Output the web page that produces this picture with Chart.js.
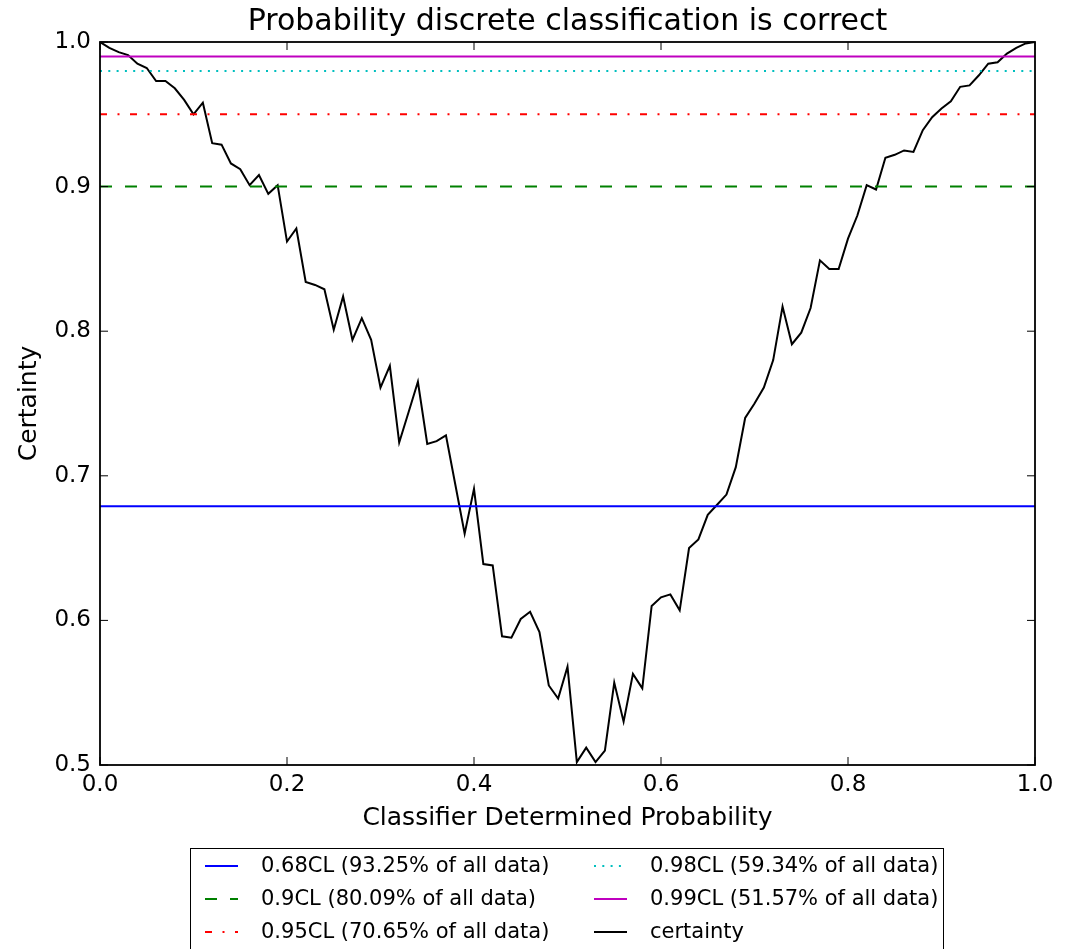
<!DOCTYPE html>
<html lang="en">

    <head>
        <title>Certainty</title>
        <style>
            body { margin: 0; background: #ffffff; }
        </style>
    </head>

    <body>

        <canvas id="certaintyChart" width="1068" height="949"></canvas>

        <script src="https://cdn.jsdelivr.net/npm/chart.js"></script>

        <script>

            // classifier probability (x) and the certainty curve
            const probability = [
                0.00, 0.01, 0.02, 0.03, 0.04, 0.05, 0.06, 0.07, 0.08, 0.09,
                0.10, 0.11, 0.12, 0.13, 0.14, 0.15, 0.16, 0.17, 0.18, 0.19,
                0.20, 0.21, 0.22, 0.23, 0.24, 0.25, 0.26, 0.27, 0.28, 0.29,
                0.30, 0.31, 0.32, 0.33, 0.34, 0.35, 0.36, 0.37, 0.38, 0.39,
                0.40, 0.41, 0.42, 0.43, 0.44, 0.45, 0.46, 0.47, 0.48, 0.49,
                0.50, 0.51, 0.52, 0.53, 0.54, 0.55, 0.56, 0.57, 0.58, 0.59,
                0.60, 0.61, 0.62, 0.63, 0.64, 0.65, 0.66, 0.67, 0.68, 0.69,
                0.70, 0.71, 0.72, 0.73, 0.74, 0.75, 0.76, 0.77, 0.78, 0.79,
                0.80, 0.81, 0.82, 0.83, 0.84, 0.85, 0.86, 0.87, 0.88, 0.89,
                0.90, 0.91, 0.92, 0.93, 0.94, 0.95, 0.96, 0.97, 0.98, 0.99,
                1.00
            ]

            const certainty = [
                1.000, 0.996, 0.993, 0.991, 0.985, 0.982, 0.973, 0.973, 0.968, 0.960,
                0.950, 0.958, 0.930, 0.929, 0.916, 0.912, 0.901, 0.908, 0.895, 0.901,
                0.862, 0.871, 0.834, 0.832, 0.829, 0.801, 0.824, 0.794, 0.809, 0.794,
                0.761, 0.776, 0.723, 0.744, 0.765, 0.722, 0.724, 0.728, 0.694, 0.660,
                0.691, 0.639, 0.638, 0.589, 0.588, 0.601, 0.606, 0.592, 0.555, 0.546,
                0.568, 0.502, 0.512, 0.502, 0.510, 0.557, 0.530, 0.563, 0.553, 0.610,
                0.616, 0.618, 0.607, 0.650, 0.656, 0.673, 0.680, 0.687, 0.706, 0.740,
                0.750, 0.761, 0.780, 0.817, 0.791, 0.799, 0.816, 0.849, 0.843, 0.843,
                0.864, 0.880, 0.901, 0.898, 0.920, 0.922, 0.925, 0.924, 0.939, 0.948,
                0.954, 0.959, 0.969, 0.970, 0.977, 0.985, 0.986, 0.992, 0.996, 0.999,
                1.000
            ]

            // confidence level lines
            const clLabels = [
                "0.68CL (93.25% of all data)",
                "0.9CL (80.09% of all data)",
                "0.95CL (70.65% of all data)",
                "0.98CL (59.34% of all data)",
                "0.99CL (51.57% of all data)"
            ]
            const clValues = [0.679, 0.90, 0.95, 0.98, 0.99]
            const clColors = ["#0000ff", "#008000", "#ff0000", "#00bfbf", "#bf00bf"]
            const clDashes = [[], [12, 13], [7, 10.5, 2, 10.5], [2, 6.3], []]

            const xTicks = [0.0, 0.2, 0.4, 0.6, 0.8, 1.0]
            const yTicks = [0.5, 0.6, 0.7, 0.8, 0.9, 1.0]

            const fontName = "'DejaVu Sans', sans-serif"


            var datasets = []
            for (var i = 0; i < clValues.length; i++) {
                datasets.push({
                    label: clLabels[i],
                    data: [{x: 0, y: clValues[i]}, {x: 1, y: clValues[i]}],
                    borderColor: clColors[i],
                    borderWidth: 2,
                    borderDash: clDashes[i],
                    pointRadius: 0
                })
            }
            datasets.push({
                label: "certainty",
                data: probability.map(function(p, j){ return {x: p, y: certainty[j]} }),
                borderColor: "#000000",
                borderWidth: 2,
                pointRadius: 0,
                tension: 0
            })


            // frame, inward ticks, title and the two column legend
            const matplotlibLook = {
                id: "matplotlibLook",
                afterDraw(chart) {
                    const ctx = chart.ctx
                    const area = chart.chartArea
                    const xs = chart.scales.x
                    const ys = chart.scales.y

                    ctx.save()
                    ctx.strokeStyle = "#000000"
                    ctx.lineWidth = 1
                    ctx.setLineDash([])
                    ctx.beginPath()
                    xTicks.forEach(function(t){
                        var px = xs.getPixelForValue(t)
                        ctx.moveTo(px, area.bottom); ctx.lineTo(px, area.bottom - 8)
                        ctx.moveTo(px, area.top); ctx.lineTo(px, area.top + 8)
                    })
                    yTicks.forEach(function(t){
                        var py = ys.getPixelForValue(t)
                        ctx.moveTo(area.left, py); ctx.lineTo(area.left + 8, py)
                        ctx.moveTo(area.right, py); ctx.lineTo(area.right - 8, py)
                    })
                    ctx.stroke()

                    ctx.lineWidth = 1.8
                    ctx.strokeRect(area.left, area.top, area.right - area.left, area.bottom - area.top)

                    // title over the axes
                    ctx.fillStyle = "#000000"
                    ctx.font = "30px " + fontName
                    ctx.textAlign = "center"
                    ctx.textBaseline = "middle"
                    ctx.fillText("Probability discrete classification is correct", (area.left + area.right) / 2, 22)

                    // legend
                    ctx.lineWidth = 1
                    ctx.strokeRect(190.5, 848.5, 753, 120)
                    ctx.font = "21px " + fontName
                    ctx.textAlign = "left"
                    const cols = [205, 594]
                    const rows = [866, 899, 932]
                    chart.data.datasets.forEach(function(ds, k){
                        var cx = cols[Math.floor(k / 3)]
                        var cy = rows[k % 3]
                        ctx.strokeStyle = ds.borderColor
                        ctx.lineWidth = 2
                        ctx.setLineDash(ds.borderDash || [])
                        ctx.beginPath()
                        ctx.moveTo(cx, cy); ctx.lineTo(cx + 33, cy)
                        ctx.stroke()
                        ctx.setLineDash([])
                        ctx.fillStyle = "#000000"
                        ctx.fillText(ds.label, cx + 56, cy + 1)
                    })
                    ctx.restore()
                }
            }


            new Chart(document.getElementById("certaintyChart"), {
                type: "line",
                data: { datasets: datasets },
                plugins: [matplotlibLook],
                options: {
                    responsive: false,
                    animation: false,
                    layout: { padding: { left: 0, right: 33, top: 42, bottom: 112 } },
                    plugins: {
                        legend: { display: false },
                        tooltip: { enabled: false }
                    },
                    scales: {
                        x: {
                            type: "linear",
                            min: 0,
                            max: 1,
                            afterFit: function(scale){ scale.height = 72 },
                            afterBuildTicks: function(scale){ scale.ticks = xTicks.map(function(v){ return {value: v} }) },
                            grid: { display: false, drawTicks: false },
                            border: { display: false },
                            ticks: {
                                padding: 6,
                                color: "#000000",
                                font: { family: fontName, size: 23 },
                                callback: function(v){ return Number(v).toFixed(1) }
                            },
                            title: {
                                display: true,
                                text: "Classifier Determined Probability",
                                color: "#000000",
                                font: { family: fontName, size: 25 },
                                padding: { top: 0, bottom: 4 }
                            }
                        },
                        y: {
                            min: 0.5,
                            max: 1.0,
                            afterFit: function(scale){ scale.width = 100 },
                            afterBuildTicks: function(scale){ scale.ticks = yTicks.map(function(v){ return {value: v} }) },
                            grid: { display: false, drawTicks: false },
                            border: { display: false },
                            ticks: {
                                padding: 9,
                                color: "#000000",
                                font: { family: fontName, size: 23 },
                                callback: function(v){ return Number(v).toFixed(1) }
                            },
                            title: {
                                display: true,
                                text: "Certainty",
                                color: "#000000",
                                font: { family: fontName, size: 25 },
                                padding: { top: 14, bottom: 0 }
                            }
                        }
                    }
                }
            });

        </script>

    </body>

</html>
